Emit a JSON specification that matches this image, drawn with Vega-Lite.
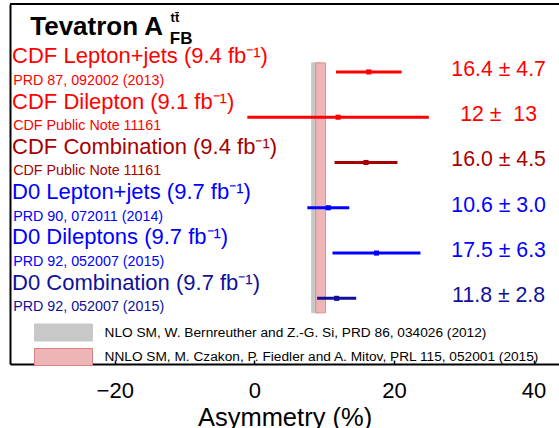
{
  "$schema": "https://vega.github.io/schema/vega-lite/v6.json",
  "width": 549,
  "height": 360,
  "autosize": {"type": "none"},
  "padding": {"left": 10, "top": 4, "right": 0, "bottom": 64},
  "config": {
    "font": "Liberation Sans",
    "view": {"stroke": null},
    "axis": {"grid": false},
    "axisX": {
      "domainColor": "black", "domainWidth": 2,
      "tickColor": "black", "tickSize": -4, "tickWidth": 1.5,
      "labelFontSize": 22, "labelColor": "black", "labelPadding": 20,
      "titleFontSize": 25.5, "titleFontWeight": "normal", "titleColor": "black", "titlePadding": 4
    },
    "axisY": {"domain": true, "domainColor": "black", "domainWidth": 2, "ticks": false, "labels": false}
  },
  "datasets": {
    "meas": [
      {"row": 1, "group": "CDF", "label": "CDF Lepton+jets (9.4 fb⁻¹)", "ref": "PRD 87, 092002 (2013)", "value": 16.4, "lo": 11.7, "hi": 21.1, "text": "16.4 ± 4.7"},
      {"row": 2, "group": "CDF", "label": "CDF Dilepton (9.1 fb⁻¹)", "ref": "CDF Public Note 11161", "value": 12, "lo": -1, "hi": 25, "text": "12 ±\u00a0 13"},
      {"row": 3, "group": "CDF comb", "label": "CDF Combination (9.4 fb⁻¹)", "ref": "CDF Public Note 11161", "value": 16.0, "lo": 11.5, "hi": 20.5, "text": "16.0 ± 4.5"},
      {"row": 4, "group": "D0", "label": "D0 Lepton+jets (9.7 fb⁻¹)", "ref": "PRD 90, 072011 (2014)", "value": 10.6, "lo": 7.6, "hi": 13.6, "text": "10.6 ± 3.0"},
      {"row": 5, "group": "D0", "label": "D0 Dileptons (9.7 fb⁻¹)", "ref": "PRD 92, 052007 (2015)", "value": 17.5, "lo": 11.2, "hi": 23.8, "text": "17.5 ± 6.3"},
      {"row": 6, "group": "D0 comb", "label": "D0 Combination (9.7 fb⁻¹)", "ref": "PRD 92, 052007 (2015)", "value": 11.8, "lo": 9.0, "hi": 14.6, "text": "11.8 ± 2.8"}
    ],
    "sm": [
      {"model": "NLO SM, W. Bernreuther and Z.-G. Si, PRD 86, 034026 (2012)", "lo": 8.2, "hi": 9.4},
      {"model": "NNLO SM, M. Czakon, P. Fiedler and A. Mitov, PRL 115, 052001 (2015)", "lo": 8.8, "hi": 10.2}
    ]
  },
  "layer": [
    {
      "data": {"values": [{}]},
      "mark": {"type": "rule", "color": "black", "strokeWidth": 2},
      "encoding": {
        "y": {"datum": -0.5, "type": "quantitative", "scale": {"domain": [-0.5, 7.45], "reverse": true, "nice": false, "zero": false}}
      }
    },
    {
      "data": {"name": "sm"},
      "mark": {"type": "rect", "strokeWidth": 0.8},
      "encoding": {
        "x": {"field": "lo", "type": "quantitative", "title": "Asymmetry (%)", "scale": {"domain": [-35, 43.65], "nice": false, "zero": false}, "axis": {"values": [-20, 0, 20, 40]}},
        "x2": {"field": "hi"},
        "y": {"datum": 0.8, "type": "quantitative"},
        "y2": {"datum": 6.32},
        "fill": {
          "field": "model", "type": "nominal",
          "scale": {"domain": ["NLO SM, W. Bernreuther and Z.-G. Si, PRD 86, 034026 (2012)", "NNLO SM, M. Czakon, P. Fiedler and A. Mitov, PRL 115, 052001 (2015)"], "range": ["#c8c8c8", "#edb5b5"]},
          "legend": {
            "orient": "none", "legendX": 44.5, "legendY": 319.5, "title": null, "padding": 0,
            "symbolType": "M-3.41,-1H3.41V1H-3.41Z", "symbolSize": 289, "symbolStrokeWidth": 1, "symbolOpacity": 1,
            "labelFontSize": 13.7, "labelColor": "black", "labelOffset": 32, "rowPadding": 2.5, "labelLimit": 600
          }
        },
        "stroke": {
          "field": "model", "type": "nominal",
          "scale": {"domain": ["NLO SM, W. Bernreuther and Z.-G. Si, PRD 86, 034026 (2012)", "NNLO SM, M. Czakon, P. Fiedler and A. Mitov, PRL 115, 052001 (2015)"], "range": ["#c8c8c8", "#d98080"]}
        }
      }
    },
    {
      "data": {"name": "meas"},
      "mark": {"type": "rule", "strokeWidth": 3},
      "encoding": {
        "x": {"field": "lo", "type": "quantitative", "title": "Asymmetry (%)"},
        "x2": {"field": "hi"},
        "y": {"field": "row", "type": "quantitative", "title": null},
        "color": {"field": "group", "type": "nominal", "legend": null,
          "scale": {"domain": ["CDF", "CDF comb", "D0", "D0 comb"], "range": ["#ff0000", "#a80000", "#0000ff", "#10109a"]}}
      }
    },
    {
      "data": {"name": "meas"},
      "mark": {"type": "point", "shape": "square", "filled": true, "size": 26, "opacity": 1},
      "encoding": {
        "x": {"field": "value", "type": "quantitative", "title": "Asymmetry (%)"},
        "y": {"field": "row", "type": "quantitative", "title": null},
        "color": {"field": "group", "type": "nominal", "legend": null}
      }
    },
    {
      "data": {"name": "meas"},
      "mark": {"type": "text", "align": "left", "baseline": "alphabetic", "fontSize": 22, "dy": -8.7},
      "encoding": {
        "x": {"datum": -34.7, "type": "quantitative"},
        "y": {"field": "row", "type": "quantitative", "title": null},
        "text": {"field": "label"},
        "color": {"field": "group", "type": "nominal", "legend": null}
      }
    },
    {
      "data": {"name": "meas"},
      "mark": {"type": "text", "align": "left", "baseline": "alphabetic", "fontSize": 14.3, "dy": 13},
      "encoding": {
        "x": {"datum": -34.55, "type": "quantitative"},
        "y": {"field": "row", "type": "quantitative", "title": null},
        "text": {"field": "ref"},
        "color": {"field": "group", "type": "nominal", "legend": null}
      }
    },
    {
      "data": {"name": "meas"},
      "mark": {"type": "text", "align": "center", "baseline": "alphabetic", "fontSize": 21.3, "dy": 4},
      "encoding": {
        "x": {"datum": 35.0, "type": "quantitative"},
        "y": {"field": "row", "type": "quantitative", "title": null},
        "text": {"field": "text"},
        "color": {"field": "group", "type": "nominal", "legend": null}
      }
    },
    {
      "data": {"values": [{"t": "Tevatron A"}]},
      "mark": {"type": "text", "align": "left", "baseline": "alphabetic", "fontSize": 26, "fontWeight": "bold", "color": "black"},
      "encoding": {
        "x": {"datum": -32.1, "type": "quantitative"},
        "y": {"datum": 0.185, "type": "quantitative"},
        "text": {"field": "t"}
      }
    },
    {
      "data": {"values": [{"t": "FB"}]},
      "mark": {"type": "text", "align": "left", "baseline": "alphabetic", "fontSize": 17, "fontWeight": "bold", "color": "black"},
      "encoding": {
        "x": {"datum": -12.1, "type": "quantitative"},
        "y": {"datum": 0.39, "type": "quantitative"},
        "text": {"field": "t"}
      }
    },
    {
      "data": {"values": [{"t": "tt\u0304"}]},
      "mark": {"type": "text", "align": "left", "baseline": "alphabetic", "fontSize": 13, "fontWeight": "bold", "color": "black"},
      "encoding": {
        "x": {"datum": -12.0, "type": "quantitative"},
        "y": {"datum": -0.1, "type": "quantitative"},
        "text": {"field": "t"}
      }
    }
  ]
}
